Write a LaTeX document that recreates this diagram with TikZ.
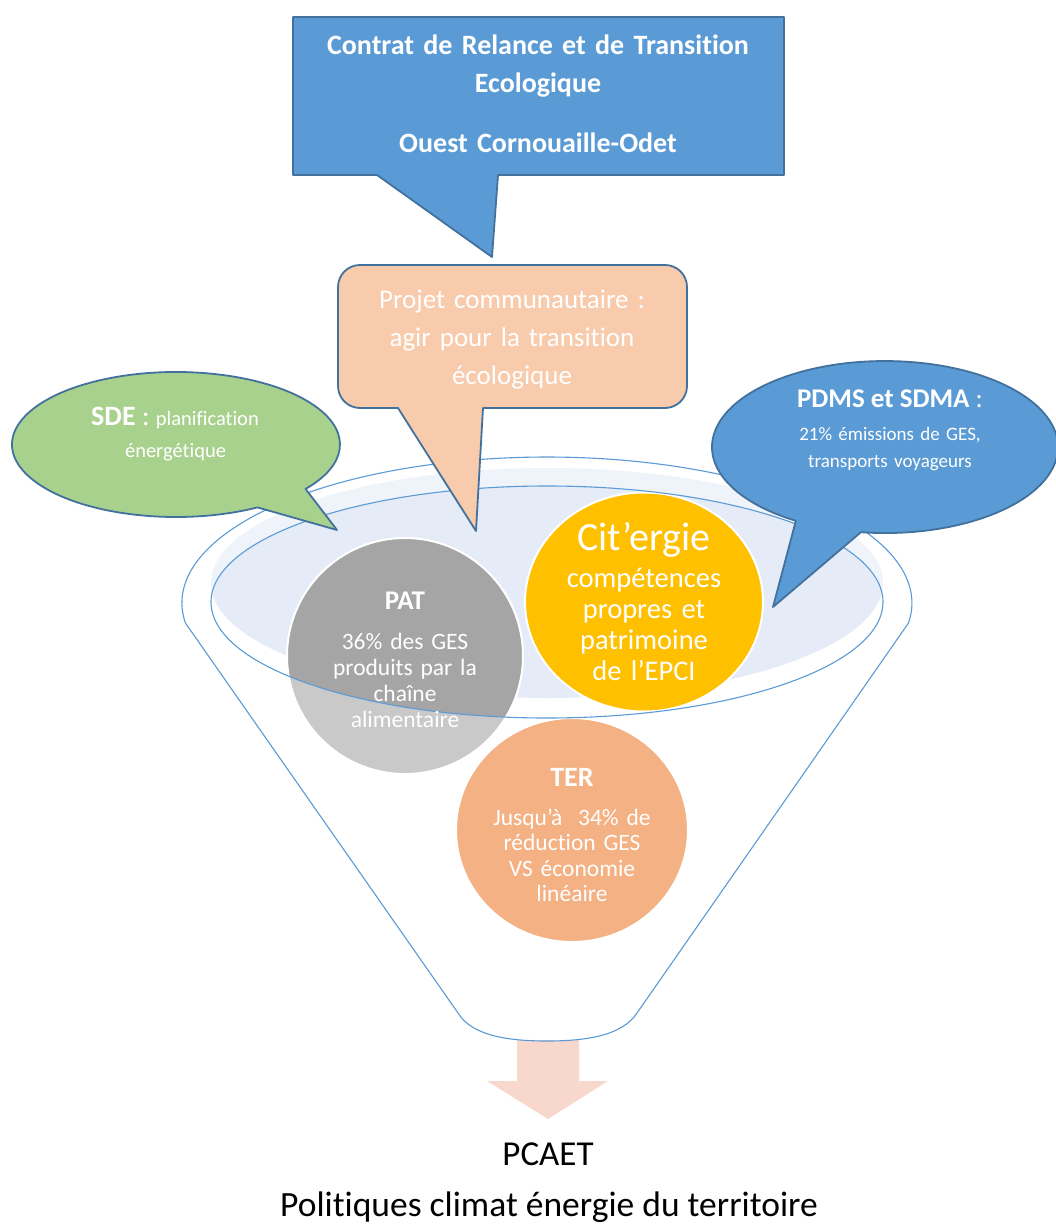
\documentclass[tikz,border=0pt]{standalone}
\usepackage{fontspec}
\setmainfont{Carlito}[Ligatures={NoCommon}]
\usetikzlibrary{shapes.geometric}
\definecolor{accblue}{RGB}{91,155,213}
\definecolor{bordblue}{RGB}{65,113,156}
\definecolor{greenfill}{RGB}{169,209,142}
\definecolor{peachfill}{RGB}{248,203,173}
\definecolor{rimfill}{RGB}{229,236,247}
\definecolor{patgray}{RGB}{165,165,165}
\definecolor{citgold}{RGB}{255,192,0}
\definecolor{terorange}{RGB}{237,125,49}
\definecolor{arrowpeach}{RGB}{248,216,204}
\newcommand{\myfs}[2]{\fontsize{#1}{#2}\selectfont}
\begin{document}
\begin{tikzpicture}[x=1pt,y=-1pt,
  calloutshape/.style={draw=bordblue, line width=1.8pt, line join=round},
  funnelline/.style={draw=accblue, line width=1.1pt},
  disc/.style={draw=white, line width=2pt, inner sep=0pt},
  wtxt/.style={text=white, inner sep=0pt, align=center, anchor=base},
  btxt/.style={text=black, inner sep=0pt, anchor=base},
]
\useasboundingbox (0,0) rectangle (1056,1225);

% rim fill of the funnel opening
\fill[rimfill] (547,583) ellipse [x radius=336, y radius=115];

% discs
\node[disc, fill=patgray, circle, minimum size=236pt] (pat) at (405,656) {};
\node[disc, fill=citgold, ellipse, minimum width=238pt, minimum height=219pt] (cit) at (644,602) {};
\node[disc, fill=terorange, ellipse, minimum width=232pt, minimum height=224pt] (ter) at (572,830) {};

% arrow out of the funnel
\fill[arrowpeach] (517,1040) -- (579,1040) -- (579,1081) -- (608,1081) -- (548,1119) -- (487,1081) -- (517,1081) -- cycle;

% semi-transparent funnel body
\fill[white, fill opacity=0.4, even odd rule]
  (185.4,623) arc[start angle=172.13, end angle=367.87, x radius=365, y radius=146]
  -- (637,1013) .. controls (622,1036) and (585,1041) .. (547,1041)
  .. controls (509,1041) and (472,1036) .. (458,1013) -- cycle
  (547,602) ellipse [x radius=336, y radius=116];

% funnel outlines
\draw[funnelline, line join=round]
  (185.4,623) arc[start angle=172.13, end angle=367.87, x radius=365, y radius=146]
  -- (637,1013) .. controls (622,1036) and (585,1041) .. (547,1041)
  .. controls (509,1041) and (472,1036) .. (458,1013) -- cycle;
\draw[funnelline] (547,602) ellipse [x radius=336, y radius=116];

% callouts
\draw[calloutshape, fill=accblue] (377,175) -- (293,175) -- (293,17) -- (784,17) -- (784,175) -- (498,175) -- (492,257) -- cycle;
\draw[calloutshape, fill=peachfill] (398,408) -- (360,408) arc[start angle=90,end angle=180,radius=22]
  -- (338,287) arc[start angle=180,end angle=270,radius=22]
  -- (665,265) arc[start angle=270,end angle=360,radius=22]
  -- (687,386) arc[start angle=0,end angle=90,radius=22]
  -- (483,408) -- (476,531) -- cycle;
\draw[calloutshape, fill=greenfill] (257.5,507.4) arc[start angle=60.2, end angle=397.8, x radius=164, y radius=72.5] -- (337,530) -- cycle;
\draw[calloutshape, fill=accblue] (860.9,532.2) arc[start angle=98, end angle=-239, x radius=173, y radius=86] -- (773,607) -- cycle;

% texts
\node[wtxt, font=\bfseries\myfs{28}{38}, text width=480pt] (crte) at (538,55) {Contrat de Relance et de Transition\\Ecologique\\[22pt]Ouest Cornouaille-Odet};
\node[wtxt, font=\myfs{27}{38}, text width=340pt] (projet) at (512,308) {Projet communautaire :\\agir pour la transition\\écologique};
\node[wtxt] (sde1) at (175,425) {{\bfseries\myfs{28}{32}SDE}\myfs{28}{32} : \myfs{20.5}{32}planification};
\node[wtxt, font=\myfs{20.5}{32}] (sde2) at (175.5,457) {énergétique};
\node[wtxt] (pdms1) at (890,407) {{\bfseries\myfs{27}{32}PDMS et SDMA}\myfs{27}{32} :};
\node[wtxt, font=\myfs{19}{27}, text width=260pt] (pdms2) at (890,440) {21\% émissions de GES,\\transports voyageurs};
\node[wtxt, font=\bfseries\myfs{27}{30}] (pat1) at (405,609) {PAT};
\node[wtxt, font=\myfs{23.5}{26}, text width=200pt] (pat2) at (405,649) {36\% des GES\\produits par la\\chaîne\\alimentaire};
\node[wtxt, font=\myfs{40}{44}] (cit1) at (644,550) {Cit’ergie};
\node[wtxt, font=\myfs{28.5}{31}, text width=220pt] (cit2) at (644,587) {compétences\\propres et\\patrimoine\\de l’EPCI};
\node[wtxt, font=\bfseries\myfs{28}{30}] (ter1) at (572,786) {TER};
\node[wtxt, font=\myfs{23.5}{25.5}, text width=220pt] (ter2) at (572,825) {Jusqu’à\ \ 34\% de\\réduction GES\\VS économie\\linéaire};
\node[btxt, font=\myfs{35}{40}] (pcaet) at (548,1165) {PCAET};
\node[btxt, font=\myfs{35.5}{40}] (politiques) at (549,1216) {Politiques climat énergie du territoire};
\end{tikzpicture}
\end{document}
